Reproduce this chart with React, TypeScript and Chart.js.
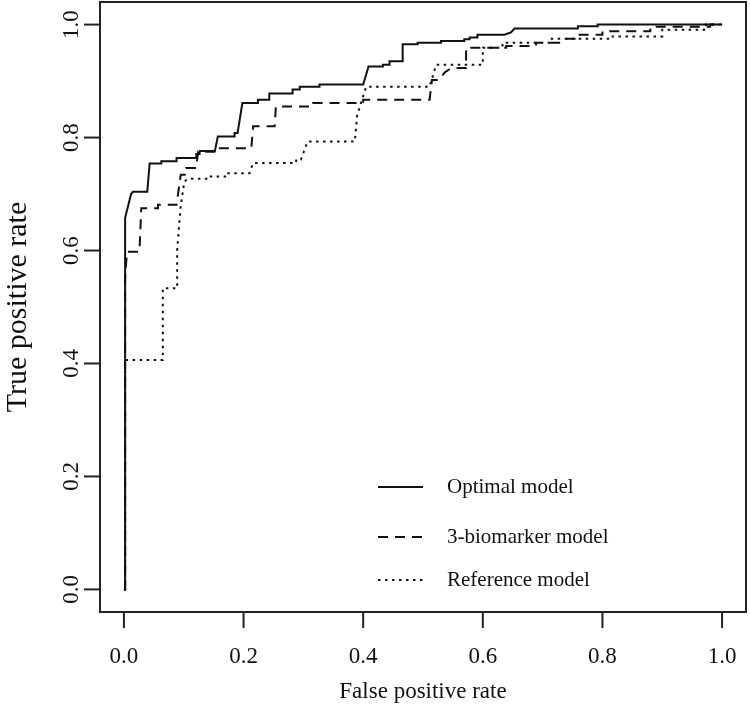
import React, { useEffect, useRef } from "react";
import { Chart, registerables } from "chart.js";

Chart.register(...registerables);

// ---- Data ----
const optimalFpr = [0, 0.002, 0.002, 0.012, 0.015, 0.039, 0.043, 0.0625, 0.0625, 0.088, 0.088, 0.121, 0.121, 0.1265, 0.1265, 0.152, 0.157, 0.185, 0.185, 0.19, 0.198, 0.224, 0.224, 0.243, 0.243, 0.282, 0.282, 0.294, 0.294, 0.327, 0.327, 0.40, 0.409, 0.433, 0.433, 0.444, 0.444, 0.466, 0.466, 0.491, 0.491, 0.530, 0.530, 0.569, 0.569, 0.578, 0.578, 0.591, 0.591, 0.636, 0.647, 0.653, 0.759, 0.759, 0.792, 0.792, 1.0];
const optimalTpr = [0, 0, 0.658, 0.70, 0.704, 0.704, 0.754, 0.754, 0.758, 0.758, 0.764, 0.764, 0.771, 0.771, 0.776, 0.776, 0.802, 0.802, 0.808, 0.808, 0.861, 0.861, 0.867, 0.867, 0.878, 0.878, 0.885, 0.885, 0.890, 0.890, 0.894, 0.894, 0.926, 0.926, 0.929, 0.929, 0.935, 0.935, 0.965, 0.965, 0.968, 0.968, 0.971, 0.971, 0.974, 0.974, 0.977, 0.977, 0.982, 0.982, 0.986, 0.993, 0.993, 0.997, 0.997, 1.0, 1.0];

const biomarkerFpr = [0, 0.002, 0.002, 0.005, 0.026, 0.029, 0.057, 0.057, 0.088, 0.095, 0.104, 0.104, 0.121, 0.124, 0.154, 0.154, 0.213, 0.216, 0.252, 0.254, 0.316, 0.316, 0.40, 0.40, 0.511, 0.515, 0.527, 0.536, 0.547, 0.572, 0.572, 0.639, 0.639, 0.689, 0.689, 0.733, 0.74, 0.756, 0.756, 0.80, 0.80, 0.88, 0.88, 0.98, 0.98, 1.0];
const biomarkerTpr = [0, 0, 0.55, 0.598, 0.598, 0.675, 0.675, 0.681, 0.681, 0.734, 0.734, 0.746, 0.746, 0.775, 0.775, 0.781, 0.781, 0.820, 0.820, 0.855, 0.855, 0.861, 0.861, 0.867, 0.867, 0.902, 0.902, 0.915, 0.923, 0.923, 0.959, 0.959, 0.962, 0.962, 0.968, 0.968, 0.975, 0.975, 0.982, 0.982, 0.988, 0.988, 0.996, 0.996, 1.0, 1.0];

const referenceFpr = [0, 0.002, 0.002, 0.065, 0.065, 0.089, 0.089, 0.095, 0.101, 0.107, 0.143, 0.143, 0.171, 0.171, 0.21, 0.216, 0.288, 0.288, 0.296, 0.307, 0.386, 0.39, 0.405, 0.511, 0.522, 0.60, 0.60, 0.633, 0.633, 0.711, 0.711, 0.817, 0.817, 0.90, 0.90, 0.973, 0.973, 1.0];
const referenceTpr = [0, 0, 0.406, 0.406, 0.533, 0.533, 0.601, 0.68, 0.722, 0.727, 0.727, 0.731, 0.731, 0.737, 0.737, 0.755, 0.755, 0.761, 0.761, 0.793, 0.793, 0.84, 0.89, 0.89, 0.929, 0.929, 0.959, 0.959, 0.968, 0.968, 0.975, 0.975, 0.979, 0.979, 0.991, 0.991, 1.0, 1.0];

const seriesNames = ["Optimal model", "3-biomarker model", "Reference model"];
const xTickValues = [0, 0.2, 0.4, 0.6, 0.8, 1.0];
const xTickLabels = ["0.0", "0.2", "0.4", "0.6", "0.8", "1.0"];
const yTickValues = [0, 0.2, 0.4, 0.6, 0.8, 1.0];
const yTickLabels = ["0.0", "0.2", "0.4", "0.6", "0.8", "1.0"];
const xTitle = "False positive rate";
const yTitle = "True positive rate";

// ---- Styling ----
const FONT = "'Liberation Serif', 'Times New Roman', serif";
const INK = "#111";
const DASHES: number[][] = [[], [10, 7], [2.5, 4.5]];

const toPoints = (xs: number[], ys: number[]) => xs.map((x, i) => ({ x, y: ys[i] }));

const rStylePlugin = {
  id: "rStyle",
  afterDraw(chart: any) {
    const ctx = chart.ctx as CanvasRenderingContext2D;
    const { left, right, top, bottom } = chart.chartArea;
    const xs = chart.scales.x;
    const ys = chart.scales.y;
    ctx.save();
    ctx.strokeStyle = "#222";
    ctx.fillStyle = INK;
    ctx.lineWidth = 2;
    ctx.setLineDash([]);
    ctx.strokeRect(left, top, right - left, bottom - top);
    ctx.font = `23px ${FONT}`;
    ctx.textAlign = "center";
    ctx.textBaseline = "middle";
    xTickValues.forEach((v, i) => {
      const px = xs.getPixelForValue(v);
      ctx.beginPath();
      ctx.moveTo(px, bottom);
      ctx.lineTo(px, bottom + 16);
      ctx.stroke();
      ctx.fillText(xTickLabels[i], px, bottom + 45);
    });
    yTickValues.forEach((v, i) => {
      const py = ys.getPixelForValue(v);
      ctx.beginPath();
      ctx.moveTo(left, py);
      ctx.lineTo(left - 16, py);
      ctx.stroke();
      ctx.save();
      ctx.translate(left - 28, py);
      ctx.rotate(-Math.PI / 2);
      ctx.fillText(yTickLabels[i], 0, 0);
      ctx.restore();
    });
    ctx.font = `23px ${FONT}`;
    ctx.fillText(xTitle, (xs.getPixelForValue(0) + xs.getPixelForValue(1)) / 2, 692);
    ctx.save();
    ctx.font = `30px ${FONT}`;
    ctx.translate(18, (ys.getPixelForValue(0) + ys.getPixelForValue(1)) / 2);
    ctx.rotate(-Math.PI / 2);
    ctx.fillText(yTitle, 0, 0);
    ctx.restore();
    const legendY = [487, 537, 580];
    ctx.font = `21px ${FONT}`;
    ctx.textAlign = "left";
    seriesNames.forEach((name, i) => {
      ctx.strokeStyle = INK;
      ctx.lineWidth = 2;
      ctx.setLineDash(DASHES[i]);
      ctx.beginPath();
      ctx.moveTo(378, legendY[i]);
      ctx.lineTo(423, legendY[i]);
      ctx.stroke();
      ctx.setLineDash([]);
      ctx.fillText(name, 447, legendY[i]);
    });
    ctx.restore();
  },
};

export default function App() {
  const ref = useRef<HTMLCanvasElement | null>(null);
  useEffect(() => {
    if (!ref.current) return;
    const series = [
      toPoints(optimalFpr, optimalTpr),
      toPoints(biomarkerFpr, biomarkerTpr),
      toPoints(referenceFpr, referenceTpr),
    ];
    const chart = new Chart(ref.current, {
      type: "scatter",
      data: {
        datasets: series.map((data, i) => ({
          label: seriesNames[i],
          data,
          showLine: true,
          borderColor: INK,
          borderWidth: 2,
          borderDash: DASHES[i],
          pointRadius: 0,
          fill: false,
          tension: 0,
        })),
      },
      options: {
        animation: false,
        responsive: false,
        layout: { padding: { left: 100, right: 4, top: 2, bottom: 98 } },
        plugins: { legend: { display: false }, tooltip: { enabled: false }, title: { display: false } },
        scales: {
          x: { type: "linear", min: -0.04, max: 1.04, display: false },
          y: { type: "linear", min: -0.04, max: 1.04, display: false },
        },
      },
      plugins: [rStylePlugin],
    });
    return () => chart.destroy();
  }, []);
  return (
    <div style={{ position: "absolute", left: 0, top: 0, width: 750, height: 710, background: "#fff" }}>
      <canvas ref={ref} width={750} height={710} style={{ width: 750, height: 710 }} />
    </div>
  );
}
